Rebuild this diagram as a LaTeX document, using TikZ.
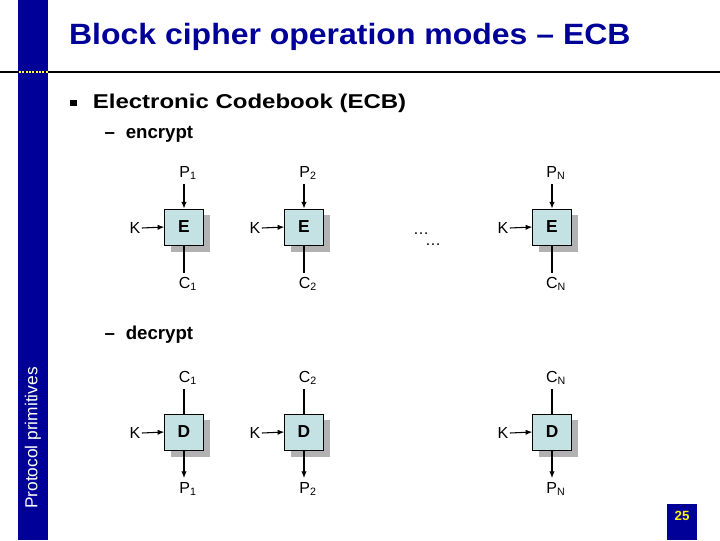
\documentclass[tikz,border=0pt]{standalone}
\usepackage{fontspec}
\setmainfont{Liberation Sans}
\usetikzlibrary{arrows.meta}
\definecolor{navy}{HTML}{000099}
\definecolor{boxc}{HTML}{C4E2E4}
\begin{document}
\begin{tikzpicture}[x=0.75pt,y=-0.75pt,
 blk/.style={draw,line width=0.6pt,fill=boxc,minimum width=29pt,minimum height=27pt,inner sep=0pt,font=\bfseries\fontsize{13}{15}\selectfont},
 lbl/.style={font=\fontsize{12}{14}\selectfont,inner sep=1pt},
 arr/.style={-{Latex[length=5pt,width=4pt]},line width=0.8pt}]
\useasboundingbox (0,0) rectangle (720,540);
\fill[navy] (18,0) rectangle (48,540);
\draw[line width=2.2pt] (0,72) -- (720,72);
\draw[yellow!70!white,line width=1.5pt,dash pattern=on 1.5pt off 1pt] (19,72) -- (48,72);
\node[anchor=west,text=navy,font=\bfseries\fontsize{22}{26}\selectfont,xscale=1.09] (title) at (64,37) {Block cipher operation modes -- ECB};
\node[anchor=west,font=\bfseries\fontsize{15}{18}\selectfont,xscale=1.2] (h1) at (64,103) {\raisebox{2pt}{\rule{4.5pt}{4.5pt}}\hspace{10pt}Electronic Codebook (ECB)};
\node[anchor=west,font=\bfseries\fontsize{14}{17}\selectfont] (h2) at (100,134) {--\hspace{8pt}encrypt};
\node[anchor=west,font=\bfseries\fontsize{14}{17}\selectfont] (h3) at (100,335) {--\hspace{8pt}decrypt};
\node[rotate=90,text=white,font=\fontsize{13}{15}\selectfont] (side) at (33,438) {Protocol primitives};
\fill[navy] (667,504) rectangle (697,540);
\node[text=yellow,font=\bfseries\fontsize{10}{12}\selectfont] (pg) at (682,516) {25};
\foreach \x/\i/\s in {184/1/1,304/2/2,552/3/N}{
 \fill[black!30] (\x-13,215) rectangle (\x+26,252);
 \node[blk] (E\i) at (\x,227) {E};
 \node[lbl] (P\i) at (\x+4,173) {P\textsubscript{\s}};
 \node[lbl] (C\i) at (\x+4,284) {C\textsubscript{\s}};
 \node[lbl] (K\i) at (\x-49,228) {K};
 \draw[arr] (\x,184) -- (E\i.north);
 \draw[line width=0.8pt] (E\i.south) -- (\x,273);
 \draw[arr] (K\i.east) -- (E\i.west);
 \fill[black!30] (\x-13,420) rectangle (\x+26,457);
 \node[blk] (D\i) at (\x,432) {D};
 \node[lbl] (CC\i) at (\x+4,378) {C\textsubscript{\s}};
 \node[lbl] (PP\i) at (\x+4,489) {P\textsubscript{\s}};
 \node[lbl] (KK\i) at (\x-49,433) {K};
 \draw[line width=0.8pt] (\x,389) -- (D\i.north);
 \draw[arr] (D\i.south) -- (\x,478);
 \draw[arr] (KK\i.east) -- (D\i.west);
}
\node[lbl] (dots1) at (421,234) {\dots};
\node[lbl] (dots2) at (433,245) {\dots};
\end{tikzpicture}
\end{document}
